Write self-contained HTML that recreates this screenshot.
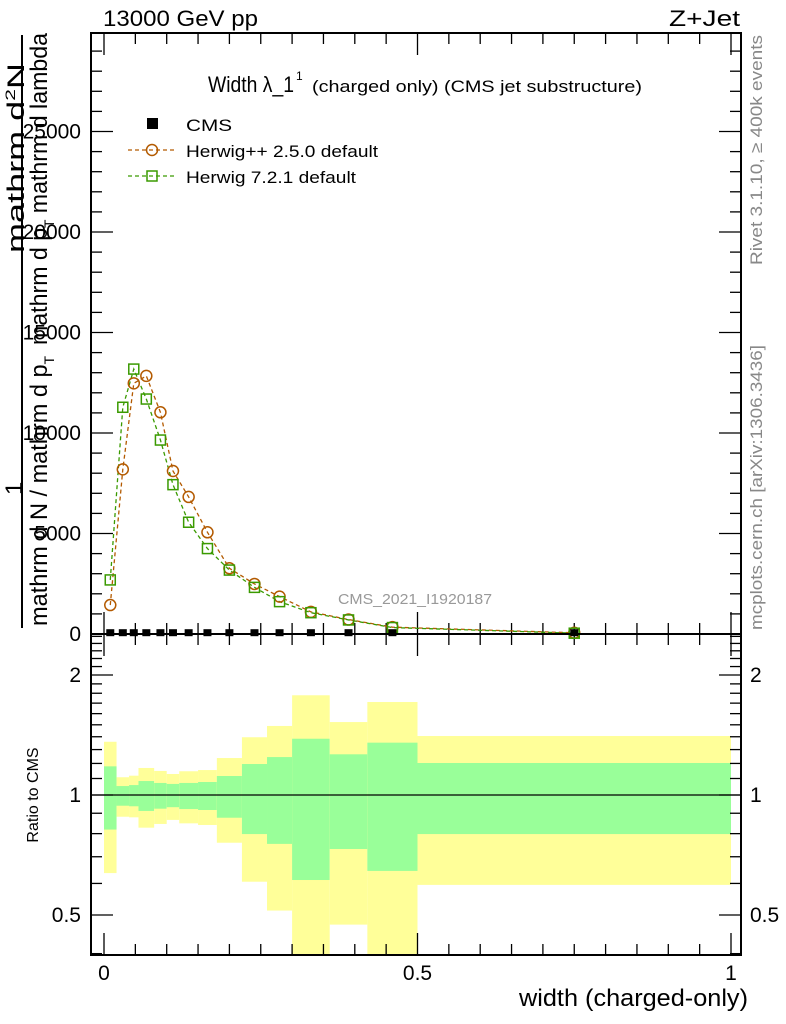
<!DOCTYPE html>
<html><head><meta charset="utf-8"><style>
body{margin:0;background:#fff;}
svg{display:block;font-family:"Liberation Sans",sans-serif;}
</style></head><body>
<svg id="c" width="786" height="1024" xmlns="http://www.w3.org/2000/svg">
<g id="bands"></g>
<g id="ticks"></g>
<g id="series"></g>
<rect x="91" y="33" width="650" height="601" fill="none" stroke="#000" stroke-width="2"/>
<rect x="91" y="634" width="650" height="321" fill="none" stroke="#000" stroke-width="2"/>
<text x="103" y="26" font-size="22" textLength="155" lengthAdjust="spacingAndGlyphs">13000 GeV pp</text>
<text x="669" y="26" font-size="22" textLength="71" lengthAdjust="spacingAndGlyphs">Z+Jet</text>
<text x="208" y="92" font-size="22" textLength="86" lengthAdjust="spacingAndGlyphs">Width λ_1</text>
<text x="296" y="80" font-size="12">1</text>
<text x="312" y="92" font-size="17" textLength="330" lengthAdjust="spacingAndGlyphs">(charged only) (CMS jet substructure)</text>
<rect x="147" y="118" width="11" height="11" fill="#000"/>
<text x="186" y="131" font-size="17" textLength="46" lengthAdjust="spacingAndGlyphs">CMS</text>
<line x1="128" y1="150" x2="176" y2="150" stroke="#b35a00" stroke-width="1.3" stroke-dasharray="4,3"/>
<circle cx="152" cy="150" r="5.5" fill="none" stroke="#b35a00" stroke-width="1.5"/>
<text x="186" y="157" font-size="17" textLength="192" lengthAdjust="spacingAndGlyphs">Herwig++ 2.5.0 default</text>
<line x1="128" y1="176" x2="176" y2="176" stroke="#3a9a00" stroke-width="1.3" stroke-dasharray="4,3"/>
<rect x="147" y="171" width="10" height="10" fill="none" stroke="#3a9a00" stroke-width="1.5"/>
<text x="186" y="183" font-size="17" textLength="170" lengthAdjust="spacingAndGlyphs">Herwig 7.2.1 default</text>
<text x="338" y="604" font-size="15" fill="#999" textLength="154" lengthAdjust="spacingAndGlyphs">CMS_2021_I1920187</text>
<line x1="22" y1="35" x2="22" y2="628" stroke="#000" stroke-width="2"/>
<text transform="translate(24,253) rotate(-90)" font-size="24" textLength="190" lengthAdjust="spacingAndGlyphs">mathrm d<tspan font-size="14" dy="-9">2</tspan><tspan dy="9">N</tspan></text>
<text transform="translate(47,345) rotate(-90)" font-size="24" textLength="312" lengthAdjust="spacingAndGlyphs">mathrm d p<tspan font-size="14" dy="7">T</tspan><tspan dy="-7"> mathrm d lambda</tspan></text>
<text transform="translate(22,495) rotate(-90)" font-size="24">1</text>
<text transform="translate(47,626) rotate(-90)" font-size="24" textLength="270" lengthAdjust="spacingAndGlyphs">mathrm d N / mathrm d p<tspan font-size="14" dy="7">T</tspan></text>
<text transform="translate(38,795) rotate(-90)" font-size="16" text-anchor="middle">Ratio to CMS</text>
<text x="519" y="1006" font-size="24" textLength="229" lengthAdjust="spacingAndGlyphs">width (charged-only)</text>
<text transform="translate(762,265) rotate(-90)" font-size="17" fill="#888" textLength="230" lengthAdjust="spacingAndGlyphs">Rivet 3.1.10, ≥ 400k events</text>
<text transform="translate(762,630) rotate(-90)" font-size="17" fill="#888" textLength="285" lengthAdjust="spacingAndGlyphs">mcplots.cern.ch [arXiv:1306.3436]</text>
</svg>
<script>
const binEdges=[0,0.02,0.04,0.055,0.08,0.1,0.12,0.15,0.18,0.22,0.26,0.3,0.36,0.42,0.5,1.0];
const cmsVals=[40,40,40,40,40,40,40,40,40,40,40,40,40,40,40];
const herwigppVals=[1440,8190,12470,12840,11030,8110,6820,5060,3270,2490,1860,1100,720,340,60];
const herwig7Vals=[2690,11280,13180,11690,9650,7430,5560,4250,3180,2320,1610,1060,700,320,40];
const yellowHi=[1.36,1.108,1.118,1.169,1.149,1.129,1.147,1.155,1.238,1.396,1.49,1.779,1.524,1.711,1.406];
const yellowLo=[0.637,0.882,0.879,0.828,0.846,0.866,0.849,0.841,0.759,0.606,0.513,0.3,0.473,0.3,0.595];
const greenHi=[1.18,1.053,1.059,1.084,1.072,1.066,1.072,1.078,1.116,1.196,1.245,1.384,1.265,1.353,1.203];
const greenLo=[0.819,0.940,0.937,0.912,0.924,0.932,0.922,0.917,0.877,0.798,0.754,0.612,0.732,0.645,0.798];
const yTicks=[0,5000,10000,15000,20000,25000];
const yTickLabels=["0","5000","10000","15000","20000","25000"];
const rTicks=[0.5,1,2];
const rTickLabels=["0.5","1","2"];
const xTicks=[0,0.5,1];
const xTickLabels=["0","0.5","1"];

const NS="http://www.w3.org/2000/svg";
const X=v=>104+627*v;
const Y=v=>634-v*0.0201;
const R=r=>{let y=795-120*Math.log2(r);return Math.max(634,Math.min(955,y));};
function mk(tag,attrs,parent){const e=document.createElementNS(NS,tag);for(const k in attrs)e.setAttribute(k,attrs[k]);parent.appendChild(e);return e;}
const bands=document.getElementById('bands'),ticks=document.getElementById('ticks'),series=document.getElementById('series');

for(let i=0;i<binEdges.length-1;i++){
  const x0=X(binEdges[i]),x1=X(binEdges[i+1]);
  let r=mk('rect',{x:x0,y:R(yellowHi[i]),width:x1-x0,height:R(yellowLo[i])-R(yellowHi[i]),fill:'#ffff99'},bands);
  
  
  r=mk('rect',{x:x0,y:R(greenHi[i]),width:x1-x0,height:R(greenLo[i])-R(greenHi[i]),fill:'#99ff99'},bands);
  
  
}
let one=mk('line',{x1:91,x2:741,y1:R(1),y2:R(1),stroke:'#000','stroke-width':1.3},bands);



for(let v=0;v<=29000;v+=1000){
  const y=Y(v),len=(v%5000===0)?22:11;
  mk('line',{x1:91,x2:91+len,y1:y,y2:y,stroke:'#000','stroke-width':1.3},ticks);
  mk('line',{x1:741,x2:741-len,y1:y,y2:y,stroke:'#000','stroke-width':1.3},ticks);
}
yTicks.forEach((v,i)=>{
  const t=mk('text',{x:81,y:Y(v)+7,'font-size':21,'text-anchor':'end'},ticks);
  t.textContent=yTickLabels[i];
  
  
});
for(let k=4;k<=25;k++){
  const rr=k/10;const y=R(rr);if(y<=634||y>=955)continue;
  const major=rTicks.includes(rr),len=major?22:11;
  mk('line',{x1:91,x2:91+len,y1:y,y2:y,stroke:'#000','stroke-width':1.3},ticks);
  mk('line',{x1:741,x2:741-len,y1:y,y2:y,stroke:'#000','stroke-width':1.3},ticks);
}
rTicks.forEach((v,i)=>{
  let t=mk('text',{x:81,y:R(v)+7,'font-size':21,'text-anchor':'end'},ticks);
  t.textContent=rTickLabels[i];
  
  
  t=mk('text',{x:750,y:R(v)+7,'font-size':21,'text-anchor':'start'},ticks);
  t.textContent=rTickLabels[i];
  
  
});
for(let k=0;k<=20;k++){
  const v=k*0.05,x=X(v),major=(k%10===0),len=major?22:11;
  [[634,-1],[955,-1],[33,1],[634,1]].forEach(([y0,d])=>{
    mk('line',{x1:x,x2:x,y1:y0,y2:y0+d*len,stroke:'#000','stroke-width':1.3},ticks);
  });
}
xTicks.forEach((v,i)=>{
  const t=mk('text',{x:X(v),y:980,'font-size':21,'text-anchor':'middle'},ticks);
  t.textContent=xTickLabels[i];
  
  
});

const centers=[];for(let i=0;i<binEdges.length-1;i++)centers.push((binEdges[i]+binEdges[i+1])/2);
function line(vals,color,name){
  const p=mk('polyline',{points:vals.map((v,i)=>X(centers[i])+','+Y(v)).join(' '),fill:'none',stroke:color,'stroke-width':1.3,'stroke-dasharray':'4,3'},series);
  
  
}
line(herwigppVals,'#b35a00','herwigpp-line');
line(herwig7Vals,'#3a9a00','herwig7-line');
herwigppVals.forEach((v,i)=>{
  const c=mk('circle',{cx:X(centers[i]),cy:Y(v),r:5.5,fill:'none',stroke:'#b35a00','stroke-width':1.5},series);
  
  
});
herwig7Vals.forEach((v,i)=>{
  const c=mk('rect',{x:X(centers[i])-5,y:Y(v)-5,width:10,height:10,fill:'none',stroke:'#3a9a00','stroke-width':1.5},series);
  
  
});
cmsVals.forEach((v,i)=>{
  const c=mk('rect',{x:X(centers[i])-4,y:Y(v)-4,width:8,height:7,fill:'#000'},series);
  
  
});
</script>
</body></html>
